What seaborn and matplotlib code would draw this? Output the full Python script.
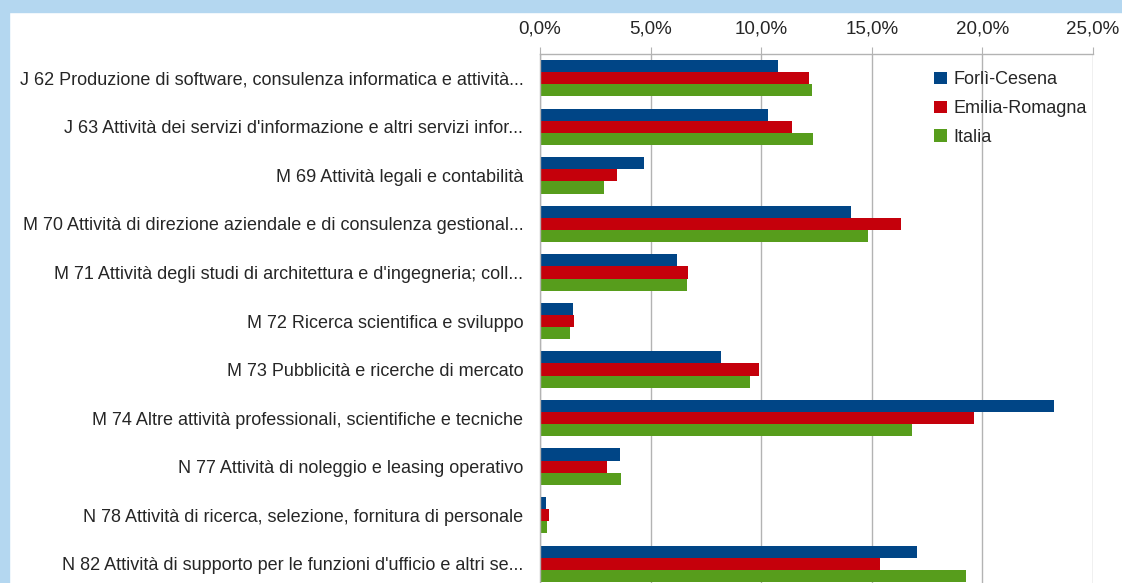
import pandas as pd
import matplotlib.pyplot as plt
import seaborn as sns
from matplotlib.patches import Rectangle
from matplotlib.ticker import FuncFormatter, FixedLocator

sns.set_style("white")
plt.rcParams['font.family'] = ['Liberation Sans', 'DejaVu Sans']

# categorie (settori ATECO)
categorie = [
    "J 62 Produzione di software, consulenza informatica e attività...",
    "J 63 Attività dei servizi d'informazione e altri servizi infor...",
    "M 69 Attività legali e contabilità",
    "M 70 Attività di direzione aziendale e di consulenza gestional...",
    "M 71 Attività degli studi di architettura e d'ingegneria; coll...",
    "M 72 Ricerca scientifica e sviluppo",
    "M 73 Pubblicità e ricerche di mercato",
    "M 74 Altre attività professionali, scientifiche e tecniche",
    "N 77 Attività di noleggio e leasing operativo",
    "N 78 Attività di ricerca, selezione, fornitura di personale",
    "N 82 Attività di supporto per le funzioni d'ufficio e altri se...",
]
serie = ["Forlì-Cesena", "Emilia-Romagna", "Italia"]

# quote percentuali
forli_cesena = [10.75, 10.3, 4.7, 14.05, 6.2, 1.5, 8.2, 23.25, 3.6, 0.25, 17.05]
emilia_romagna = [12.15, 11.4, 3.5, 16.3, 6.7, 1.55, 9.9, 19.6, 3.05, 0.4, 15.35]
italia = [12.3, 12.35, 2.9, 14.85, 6.65, 1.35, 9.5, 16.8, 3.65, 0.3, 19.25]

colori = ["#004586", "#c5000b", "#579d1c"]

df = pd.DataFrame({
    "categoria": categorie * 3,
    "serie": [s for s in serie for _ in categorie],
    "valore": forli_cesena + emilia_romagna + italia,
})

fig = plt.figure(figsize=(11.22, 5.83), dpi=100)
W, H = 1122, 583
ax = fig.add_axes([540 / W, -5 / H, (1093 - 540) / W, (588 - 54) / H])

sns.barplot(data=df, y="categoria", x="valore", hue="serie", hue_order=serie,
            palette=colori, orient="h", width=0.75, ax=ax,
            linewidth=0, saturation=1)

ax.set_xlim(0, 25)
ax.set_ylim(10.5, -0.5)
ax.set_xlabel("")
ax.set_ylabel("")

# asse x in alto
ax.xaxis.tick_top()
ax.xaxis.set_major_locator(FixedLocator([0, 5, 10, 15, 20, 25]))
ax.xaxis.set_major_formatter(FuncFormatter(lambda v, p: f"{v:.1f}%".replace(".", ",")))
ax.tick_params(axis="x", length=5, color="#b3b3b3", labelsize=13.5, pad=7)
ax.grid(axis="x", color="#b3b3b3", linewidth=1)
ax.set_axisbelow(True)

# tacche tra le categorie
ax.set_yticks(range(len(categorie)))
ax.set_yticklabels(categorie)
ax.set_yticks([i + 0.5 for i in range(-1, len(categorie))], minor=True)
ax.tick_params(axis="y", which="major", length=0, labelsize=13, pad=12)
ax.tick_params(axis="y", which="minor", length=6, color="#b3b3b3")

for side in ["right", "bottom"]:
    ax.spines[side].set_visible(False)
for side in ["left", "top"]:
    ax.spines[side].set_color("#b3b3b3")
    ax.spines[side].set_linewidth(1)

handles, labels = ax.get_legend_handles_labels()
ax.legend(handles, labels, loc="upper left", bbox_to_anchor=(918 / W, 1 - 55 / H),
          bbox_transform=fig.transFigure, frameon=False, fontsize=13,
          handlelength=0.7, handleheight=0.7, handletextpad=0.35, labelspacing=0.66)

# cornice azzurra
fig.patches.append(Rectangle((0, 1 - 12 / H), 1, 12 / H, transform=fig.transFigure,
                             color="#b4d7f0", zorder=0))
fig.patches.append(Rectangle((0, 0), 9 / W, 1, transform=fig.transFigure,
                             color="#b4d7f0", zorder=0))

fig.savefig("out.png", dpi=100)
